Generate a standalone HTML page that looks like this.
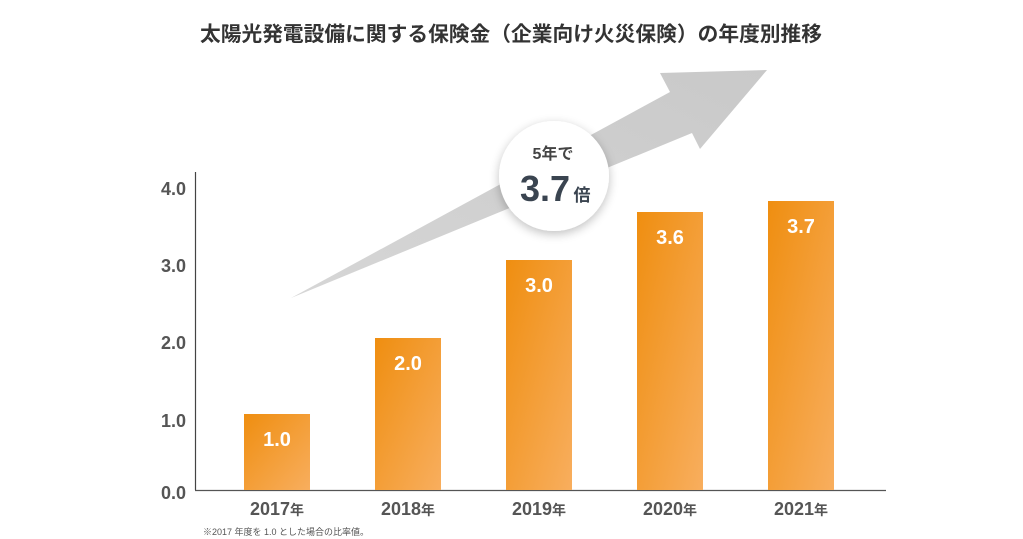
<!DOCTYPE html>
<html><head><meta charset="utf-8"><style>
html,body{margin:0;padding:0;background:#fff;}
svg{display:block;}
text{font-family:"Liberation Sans","Noto Sans CJK JP",sans-serif;}
</style></head><body>
<svg width="1023" height="539" viewBox="0 0 1023 539" xmlns="http://www.w3.org/2000/svg">
<defs>
<linearGradient id="bg" x1="0" y1="0" x2="1" y2="1">
<stop offset="0" stop-color="#ef8e10"/>
<stop offset="1" stop-color="#f8ae5e"/>
</linearGradient>
<linearGradient id="ag" x1="0" y1="1" x2="1" y2="0">
<stop offset="0" stop-color="#d6d6d6"/>
<stop offset="1" stop-color="#c9c9c9"/>
</linearGradient>
<filter id="sh" x="-30%" y="-30%" width="160%" height="160%">
<feGaussianBlur in="SourceAlpha" stdDeviation="5"/>
<feOffset dx="0" dy="3" result="b"/>
<feComponentTransfer><feFuncA type="linear" slope="0.25"/></feComponentTransfer>
<feMerge><feMergeNode/><feMergeNode in="SourceGraphic"/></feMerge>
</filter>
</defs>

<text x="511" y="41" text-anchor="middle" font-size="20.5" font-weight="bold" fill="#333" textLength="622" lengthAdjust="spacingAndGlyphs">太陽光発電設備に関する保険金（企業向け火災保険）の年度別推移</text>

<!-- arrow -->
<polygon points="291,298 670,92 660,73 767,70 700,149 692,133" fill="url(#ag)"/>

<!-- axes -->
<line x1="195.5" y1="172" x2="195.5" y2="490" stroke="#444" stroke-width="1.2"/>
<line x1="195" y1="490.5" x2="886" y2="490.5" stroke="#555" stroke-width="1.2"/>

<g font-size="18" font-weight="bold" fill="#555" text-anchor="end">
<text x="186" y="195">4.0</text>
<text x="186" y="272">3.0</text>
<text x="186" y="349">2.0</text>
<text x="186" y="427">1.0</text>
<text x="186" y="499">0.0</text>
</g>

<!-- bars -->
<rect x="244" y="414" width="66" height="76" fill="url(#bg)"/>
<rect x="375" y="338" width="66" height="152" fill="url(#bg)"/>
<rect x="506" y="260" width="66" height="230" fill="url(#bg)"/>
<rect x="637" y="212" width="66" height="278" fill="url(#bg)"/>
<rect x="768" y="201" width="66" height="289" fill="url(#bg)"/>

<g font-size="20" font-weight="bold" fill="#fff" text-anchor="middle">
<text x="277" y="446">1.0</text>
<text x="408" y="370">2.0</text>
<text x="539" y="292">3.0</text>
<text x="670" y="244">3.6</text>
<text x="801" y="233">3.7</text>
</g>

<g font-weight="bold" fill="#555" text-anchor="middle">
<text x="277" y="515"><tspan font-size="18">2017</tspan><tspan font-size="14">年</tspan></text>
<text x="408" y="515"><tspan font-size="18">2018</tspan><tspan font-size="14">年</tspan></text>
<text x="539" y="515"><tspan font-size="18">2019</tspan><tspan font-size="14">年</tspan></text>
<text x="670" y="515"><tspan font-size="18">2020</tspan><tspan font-size="14">年</tspan></text>
<text x="801" y="515"><tspan font-size="18">2021</tspan><tspan font-size="14">年</tspan></text>
</g>

<text x="203" y="535" font-size="9" fill="#555">※2017 年度を 1.0 とした場合の比率値。</text>

<!-- circle -->
<circle cx="554" cy="176" r="55" fill="#fff" filter="url(#sh)"/>
<text x="553" y="159" text-anchor="middle" font-size="16" font-weight="bold" fill="#444">5年で</text>
<text x="545" y="201" text-anchor="middle" font-size="36" font-weight="bold" fill="#3a4450">3.7</text>
<text x="582" y="201" text-anchor="middle" font-size="17" font-weight="bold" fill="#3a4450">倍</text>
</svg>
</body></html>
